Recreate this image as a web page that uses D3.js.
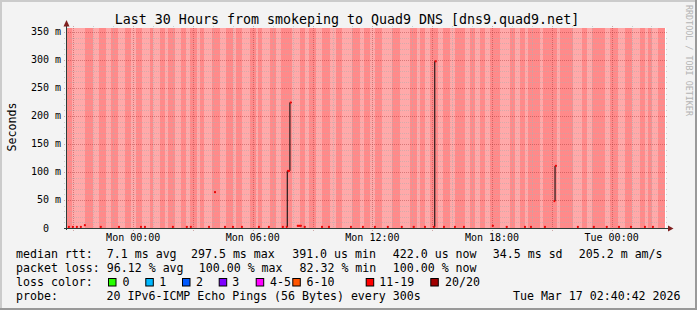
<!DOCTYPE html>
<html><head><meta charset="utf-8">
<script src="https://cdn.jsdelivr.net/npm/d3@7"></script>
<style>
body{margin:0;background:#fff}
svg text{font-family:"DejaVu Sans Mono",monospace;fill:#000}
</style>
</head><body>
<svg id="c" width="697" height="310"></svg>
<script>
// ---------------- data ----------------
const title = "Last 30 Hours from smokeping to Quad9 DNS [dns9.quad9.net]";
const yLabel = "Seconds";
const watermark = "RRDTOOL / TOBI OETIKER";
const startTime = new Date(2026, 2, 15, 20, 40, 42);
const endTime   = new Date(2026, 2, 17, 2, 40, 42);
const yMax = 357;                       // milliseconds
const yTickValues = [0, 50, 100, 150, 200, 250, 300, 350];
const yTickLabels = ["0  ", "50 m", "100 m", "150 m", "200 m", "250 m", "300 m", "350 m"];
// intervals (minutes after start) with partial loss (lighter background); the rest is 20/20 loss
const lightStripes = [[15,54],[78,96],[117,132],[154,175],[193,208],[226,250],[259,280],[295,304],[325,343],[358,370],[391,400],[412,436],[461,479],[500,509],[527,551],[569,575],[587,611],[629,644],[677,701],[716,728],[749,767],[791,810],[828,858],[882,894],[912,927],[948,978],[1002,1032],[1054,1063],[1078,1093],[1117,1132],[1153,1168],[1198,1213],[1228,1243],[1258,1273],[1304,1334],[1349,1364],[1379,1388],[1424,1433],[1475,1484],[1523,1550],[1565,1580],[1619,1634],[1659,1680],[1701,1725],[1740,1749],[1761,1779]];
// median rtt samples: [minutes after start, ms]; missing samples = 100% loss
const medianTimes  = [3,15,27,39,51,99,154,220,232,316,358,370,425,443,473,497,524,575,605,647,659,663,671,692,701,713,765,786,852,888,924,963,1005,1041,1075,1102,1107,1132,1165,1192,1279,1321,1376,1394,1436,1465,1469,1535,1583,1622,1659,1695,1737,1761];
const medianValues = [2,2,2,2,5,2,2,2,2,2,2,2,2,64,2,2,2,2,2,2,2,102,224,4,4,2,2,2,2,2,2,2,2,2,2,2,297.5,2,2,2,4,2,2,2,2,48,111,2,2,2,2,2,2,2];
const lossNames  = ["0", "1", "2", "3", "4-5", "6-10", "11-19", "20/20"];
const lossColors = ["#26ff00", "#00b8ff", "#0059ff", "#7e00ff", "#ff00ff", "#ff5500", "#ff0000", "#a10000"];
const legendRtt  = ["median rtt:", "7.1 ms avg", "297.5 ms max", "391.0 us min", "422.0 us now", "34.5 ms sd", "205.2 m am/s"];
const legendLoss = ["packet loss:", "96.12 % avg", "100.00 % max", "82.32 % min", "100.00 % now"];
const legendProbe = ["probe:", "20 IPv6-ICMP Echo Pings (56 Bytes) every 300s", "Tue Mar 17 02:40:42 2026"];
const stepMinutes = 5;

// ---------------- layout ----------------
const W = 697, H = 310;
const L = 67, R = 665, T = 28, B = 228;
const svg = d3.select("#c");
const addMin = (m) => new Date(startTime.getTime() + m * 60000);

const x = d3.scaleTime().domain([startTime, endTime]).range([L, R]);
const y = d3.scaleLinear().domain([0, yMax]).range([B, T]);

// background + frame
svg.append("rect").attr("width", W).attr("height", H).attr("fill", "#f3f3f3");
svg.append("path").attr("d", `M1,${H} V1 H${W}`).attr("stroke", "#cbcbcb").attr("stroke-width", 2).attr("fill", "none");
svg.append("path").attr("d", `M0,${H-1} H${W-1} V0`).attr("stroke", "#999").attr("stroke-width", 2).attr("fill", "none");

// canvas
svg.append("rect").attr("x", L - 1).attr("y", T).attr("width", R - L + 2).attr("height", B - T).attr("fill", "#fff");
// loss background
svg.append("rect").attr("x", L).attr("y", T).attr("width", R - L).attr("height", B - T).attr("fill", "#ff8a8a");
svg.append("g").attr("shape-rendering", "crispEdges").selectAll("rect").data(lightStripes).join("rect")
  .attr("x", d => x(addMin(d[0]))).attr("width", d => x(addMin(d[1])) - x(addMin(d[0])))
  .attr("y", T).attr("height", B - T).attr("fill", "#ffa9a9");

// grid
const gridMinor = "rgba(175,175,175,0.55)", gridMajor = "rgba(140,30,30,0.35)";
const yMinor = d3.range(10, yMax, 10).filter(v => v % 50 !== 0);
const yMajor = yTickValues.filter(v => v > 0);
const gy = svg.append("g").attr("stroke-dasharray", "1,1").attr("shape-rendering", "crispEdges");
gy.selectAll(".mi").data(yMinor).join("line").attr("class", "mi")
  .attr("x1", L - 3).attr("x2", R + 3).attr("y1", d => Math.round(y(d)) + 0.5).attr("y2", d => Math.round(y(d)) + 0.5)
  .attr("stroke", gridMinor);
const hours = d3.timeHour.every(1).range(startTime, endTime);
const hMinor = hours.filter(d => d.getHours() % 3 !== 0);
const hMajor = hours.filter(d => d.getHours() % 3 === 0);
gy.selectAll(".vmi").data(hMinor).join("line").attr("class", "vmi")
  .attr("y1", T - 2).attr("y2", B + 2).attr("x1", d => Math.round(x(d)) + 0.5).attr("x2", d => Math.round(x(d)) + 0.5)
  .attr("stroke", gridMinor);
gy.selectAll(".ma").data(yMajor).join("line").attr("class", "ma")
  .attr("x1", L - 3).attr("x2", R + 3).attr("y1", d => Math.round(y(d)) + 0.5).attr("y2", d => Math.round(y(d)) + 0.5)
  .attr("stroke", gridMajor);
gy.selectAll(".vma").data(hMajor).join("line").attr("class", "vma")
  .attr("y1", T - 2).attr("y2", B + 3).attr("x1", d => Math.round(x(d)) + 0.5).attr("x2", d => Math.round(x(d)) + 0.5)
  .attr("stroke", gridMajor);

// median line
const pts = medianTimes.map((t, i) => ({t, v: medianValues[i]}));
let dPath = "";
pts.forEach((p, i) => {
  const nxt = pts[i + 1];
  const linked = nxt && nxt.t - p.t <= 2 * stepMinutes;
  const prev = pts[i - 1];
  const linkedPrev = prev && p.t - prev.t <= 2 * stepMinutes;
  const x0 = x(addMin(p.t)), x1 = linked ? x(addMin(nxt.t)) : x(addMin(p.t + stepMinutes));
  if (!linkedPrev) dPath += `M${x0},${y(p.v)}`;
  dPath += `H${x1}`;
  if (linked) dPath += `V${y(nxt.v)}`;
  p.x0 = x0; p.x1 = x1;
});
svg.append("path").attr("d", dPath).attr("fill", "none").attr("stroke", "#000").attr("stroke-width", 1);
svg.append("g").selectAll("rect").data(pts).join("rect")
  .attr("x", d => d.x0).attr("width", d => Math.max(1.5, d.x1 - d.x0))
  .attr("y", d => Math.min(y(d.v) - 1, B - 2)).attr("height", 2)
  .attr("fill", lossColors[6]);

// axes
const axisColor = "#2c3c38", arrowColor = "#7f1f1f";
svg.append("line").attr("x1", L - 0.5).attr("x2", L - 0.5).attr("y1", B + 2).attr("y2", T - 4).attr("stroke", axisColor);
svg.append("line").attr("x1", L - 3).attr("x2", R + 5).attr("y1", B + 0.5).attr("y2", B + 0.5).attr("stroke", axisColor);
svg.append("path").attr("d", `M${L - 3.5},${T - 1.5} L${L + 2.5},${T - 1.5} L${L - 0.5},${T - 8} Z`).attr("fill", arrowColor);
svg.append("path").attr("d", `M${R + 3},${B - 2.5} L${R + 3},${B + 3.5} L${R + 8.5},${B + 0.5} Z`).attr("fill", arrowColor);

// y tick labels
svg.append("g").selectAll("text").data(yTickValues).join("text")
  .attr("x", L - 6).attr("y", d => y(d) + 3.5).attr("text-anchor", "end")
  .attr("font-size", 10).attr("xml:space", "preserve")
  .text((d, i) => yTickLabels[i]);

// x labels
const xLab = hours.filter(d => d.getHours() % 6 === 0);
const fmt = d3.timeFormat("%a %H:%M");
svg.append("g").selectAll("text").data(xLab).join("text")
  .attr("x", d => x(d)).attr("y", 241).attr("text-anchor", "middle").attr("font-size", 10)
  .text(d => fmt(d));

// title & labels
svg.append("text").attr("x", 347).attr("y", 24).attr("text-anchor", "middle").attr("font-size", 13.3).text(title);
svg.append("text").attr("transform", "translate(15.5,127) rotate(-90)").attr("text-anchor", "middle").attr("font-size", 11.6).text(yLabel);
svg.append("text").attr("transform", "translate(686,5) rotate(90)").attr("font-size", 8.4).style("fill", "#b4b4b4").text(watermark);

// legend
const fs = 11.6;
const rttX = [16, 106.8, 191.0, 292.2, 392.8, 492.8, 578.8];
legendRtt.forEach((s, i) => svg.append("text").attr("x", rttX[i]).attr("y", 257.7).attr("font-size", fs).attr("xml:space", "preserve").text(s));
const lossX = [16, 106.8, 198.8, 299.5, 392.8];
legendLoss.forEach((s, i) => svg.append("text").attr("x", lossX[i]).attr("y", 271.7).attr("font-size", fs).attr("xml:space", "preserve").text(s));
svg.append("text").attr("x", 16).attr("y", 285.7).attr("font-size", fs).text("loss color:");
const boxX = [108.5, 145.8, 182.5, 219.2, 256.2, 292.8, 366.2, 430.8];
const labX = [122.6, 159.3, 196, 232.3, 270, 306.6, 379.3, 445];
lossNames.forEach((s, i) => {
  svg.append("rect").attr("x", boxX[i]).attr("y", 278.5).attr("width", 7.5).attr("height", 7.5)
    .attr("fill", lossColors[i]).attr("stroke", "#000").attr("stroke-width", 1);
  svg.append("text").attr("x", labX[i]).attr("y", 285.7).attr("font-size", fs).text(s);
});
svg.append("text").attr("x", 16).attr("y", 299.7).attr("font-size", fs).text(legendProbe[0]);
svg.append("text").attr("x", 106.6).attr("y", 299.7).attr("font-size", fs).text(legendProbe[1]);
svg.append("text").attr("x", 680.5).attr("y", 299.7).attr("font-size", fs).attr("text-anchor", "end").text(legendProbe[2]);
</script>
</body></html>
